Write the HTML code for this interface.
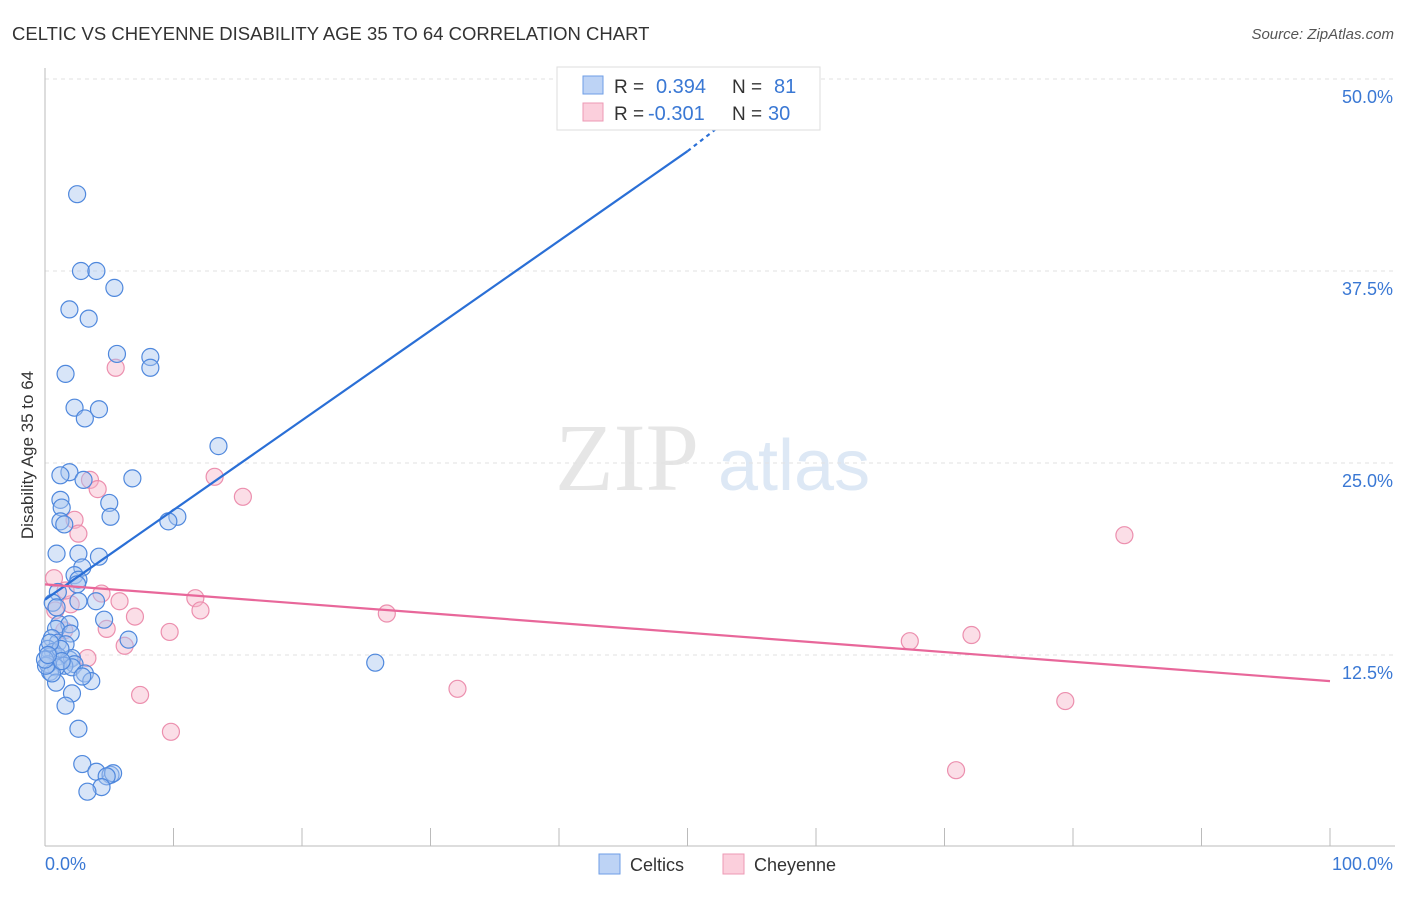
<!DOCTYPE html>
<html><head><meta charset="utf-8"><style>
body{margin:0;background:#fff;font-family:"Liberation Sans",sans-serif}
</style></head><body>
<svg width="1406" height="892" xmlns="http://www.w3.org/2000/svg" id="svg">
<text x="12" y="40" font-size="18.5" fill="#333">CELTIC VS CHEYENNE DISABILITY AGE 35 TO 64 CORRELATION CHART</text>
<text x="1394" y="39" font-size="15" fill="#555" text-anchor="end" font-style="italic">Source: ZipAtlas.com</text>
<text x="555" y="490" font-size="96" fill="#e6e6e6" font-family="Liberation Serif">ZIP</text>
<text x="718" y="490" font-size="72" fill="#dde8f5">atlas</text>
<g id="grid"></g>
<line x1="45" y1="68" x2="45" y2="846" stroke="#bbb"/>
<line x1="45" y1="846" x2="1395" y2="846" stroke="#bbb"/>
<text transform="translate(33,455) rotate(-90)" font-size="17" fill="#333" text-anchor="middle">Disability Age 35 to 64</text>
<text x="45" y="870" font-size="18" fill="#3a78d4">0.0%</text>
<text x="1393" y="870" font-size="18" fill="#3a78d4" text-anchor="end">100.0%</text>
<g id="points"></g>
<g id="lines"></g>
<g>
<rect x="557" y="67" width="263" height="63" fill="#fff" stroke="#ddd"/>
<rect x="583" y="76" width="20" height="18" fill="#bdd3f5" stroke="#6e9ee6"/>
<rect x="583" y="103" width="20" height="18" fill="#fbcfdc" stroke="#ec9ab4"/>
<text x="614" y="93" font-size="19" fill="#333">R =</text>
<text x="656" y="93" font-size="20" fill="#3a78d4">0.394</text>
<text x="732" y="93" font-size="19" fill="#333">N =</text>
<text x="774" y="93" font-size="20" fill="#3a78d4">81</text>
<text x="614" y="120" font-size="19" fill="#333">R =</text>
<text x="648" y="120" font-size="20" fill="#3a78d4">-0.301</text>
<text x="732" y="120" font-size="19" fill="#333">N =</text>
<text x="768" y="120" font-size="20" fill="#3a78d4">30</text>
</g>
<g>
<rect x="599" y="854" width="21" height="20" fill="#bdd3f5" stroke="#6e9ee6"/>
<text x="630" y="871" font-size="18" fill="#333">Celtics</text>
<rect x="723" y="854" width="21" height="20" fill="#fbcfdc" stroke="#ec9ab4"/>
<text x="754" y="871" font-size="18" fill="#333">Cheyenne</text>
</g>
</svg>
<script>
const yTicks=[12.5,25,37.5,50];
const yTickLabels=["12.5%","25.0%","37.5%","50.0%"];
const xTicks=[0,10,20,30,40,50,60,70,80,90,100];
const celticsX=[2.5,2.8,4.0,5.4,1.9,3.4,5.6,8.2,8.2,1.6,2.3,4.2,3.1,13.5,1.9,1.2,3.0,6.8,1.2,5.0,1.3,5.1,1.2,1.5,10.3,9.6,0.9,2.6,4.2,2.9,2.3,2.6,2.5,1.0,3.97,2.6,0.6,0.9,4.6,1.1,1.9,0.86,2.0,6.5,0.54,1.0,1.6,0.23,0.62,0.39,1.0,1.9,2.1,2.3,1.5,0.86,2.1,3.1,3.6,2.9,0.39,0.86,2.1,1.6,2.6,25.7,2.9,4.0,5.1,5.3,4.8,4.4,3.3,0.23,0.54,0.08,1.2,0.39,1.3,0.0,0.23];
const celticsY=[42.5,37.5,37.5,36.4,35.0,34.4,32.1,31.9,31.2,30.8,28.6,28.5,27.9,26.1,24.4,24.2,23.9,24.0,22.6,22.4,22.1,21.5,21.2,21.0,21.5,21.2,19.1,19.1,18.9,18.2,17.7,17.4,17.1,16.6,16.0,16.0,15.9,15.6,14.8,14.5,14.5,14.2,13.9,13.5,13.6,13.3,13.2,12.9,12.7,12.4,12.4,12.2,12.3,11.9,11.8,11.7,11.7,11.3,10.8,11.1,11.4,10.7,10.0,9.2,7.7,12.0,5.4,4.9,4.7,4.8,4.6,3.9,3.6,11.9,11.3,11.8,12.9,13.3,12.1,12.2,12.5];
const cheyX=[5.5,13.2,3.5,4.1,15.4,2.3,2.6,84.0,0.7,4.4,11.7,5.8,2.0,12.1,7.0,26.6,4.8,9.7,1.5,67.3,72.1,6.2,3.3,32.1,7.4,79.4,9.8,70.9,0.8,1.6];
const cheyY=[31.2,24.1,23.9,23.3,22.8,21.3,20.4,20.3,17.5,16.5,16.2,16.0,15.8,15.4,15.0,15.2,14.2,14.0,14.1,13.4,13.8,13.1,12.3,10.3,9.9,9.5,7.5,5.0,15.4,16.7];
const blueLine=[[0,16.1],[50,45.3]];
const blueDash=[[50,45.3],[52.3,46.8]];
const pinkLine=[[0,17.1],[100,10.8]];
const X=v=>45+v*12.85, Y=v=>847-v*15.36;
const NS="http://www.w3.org/2000/svg";
const grid=document.getElementById('grid'),pts=document.getElementById('points'),lns=document.getElementById('lines');
yTicks.forEach((t,i)=>{
 const l=document.createElementNS(NS,'line');
 
 
 l.setAttribute('x1',45);l.setAttribute('x2',1395);l.setAttribute('y1',Y(t));l.setAttribute('y2',Y(t));
 l.setAttribute('stroke','#e2e2e2');l.setAttribute('stroke-dasharray','4,4');grid.appendChild(l);
 const tx=document.createElementNS(NS,'text');
 
 
 tx.setAttribute('x',1393);tx.setAttribute('y',Y(t)+24);tx.setAttribute('text-anchor','end');
 tx.setAttribute('font-size','18');tx.setAttribute('fill','#3a78d4');tx.textContent=yTickLabels[i];grid.appendChild(tx);
});
xTicks.forEach(t=>{
 const l=document.createElementNS(NS,'line');
 
 
 l.setAttribute('x1',X(t));l.setAttribute('x2',X(t));l.setAttribute('y1',828);l.setAttribute('y2',846);
 l.setAttribute('stroke','#bbb');grid.appendChild(l);
});
function dots(xs,ys,fill,stroke,name){xs.forEach((x,i)=>{
 const c=document.createElementNS(NS,'circle');
 
 
 c.setAttribute('cx',X(x));c.setAttribute('cy',Y(ys[i]));c.setAttribute('r',8.5);
 c.setAttribute('fill',fill);c.setAttribute('fill-opacity','0.45');c.setAttribute('stroke',stroke);c.setAttribute('stroke-width','1.2');pts.appendChild(c);
});}
dots(cheyX,cheyY,'#f7b6c9','#ec8fae','cheyenne-point');
dots(celticsX,celticsY,'#a9c6f0','#4f88dd','celtics-point');
function line(p,col,name,dash){
 const l=document.createElementNS(NS,'line');
 
 
 l.setAttribute('x1',X(p[0][0]));l.setAttribute('y1',Y(p[0][1]));l.setAttribute('x2',X(p[1][0]));l.setAttribute('y2',Y(p[1][1]));
 l.setAttribute('stroke',col);l.setAttribute('stroke-width','2.2');if(dash)l.setAttribute('stroke-dasharray','4,4');lns.appendChild(l);
}
line(blueLine,'#2a6fd6','celtics-trendline');
line(blueDash,'#2a6fd6','celtics-trendline-extension',true);
line(pinkLine,'#e8679a','cheyenne-trendline');
</script>
</body></html>
